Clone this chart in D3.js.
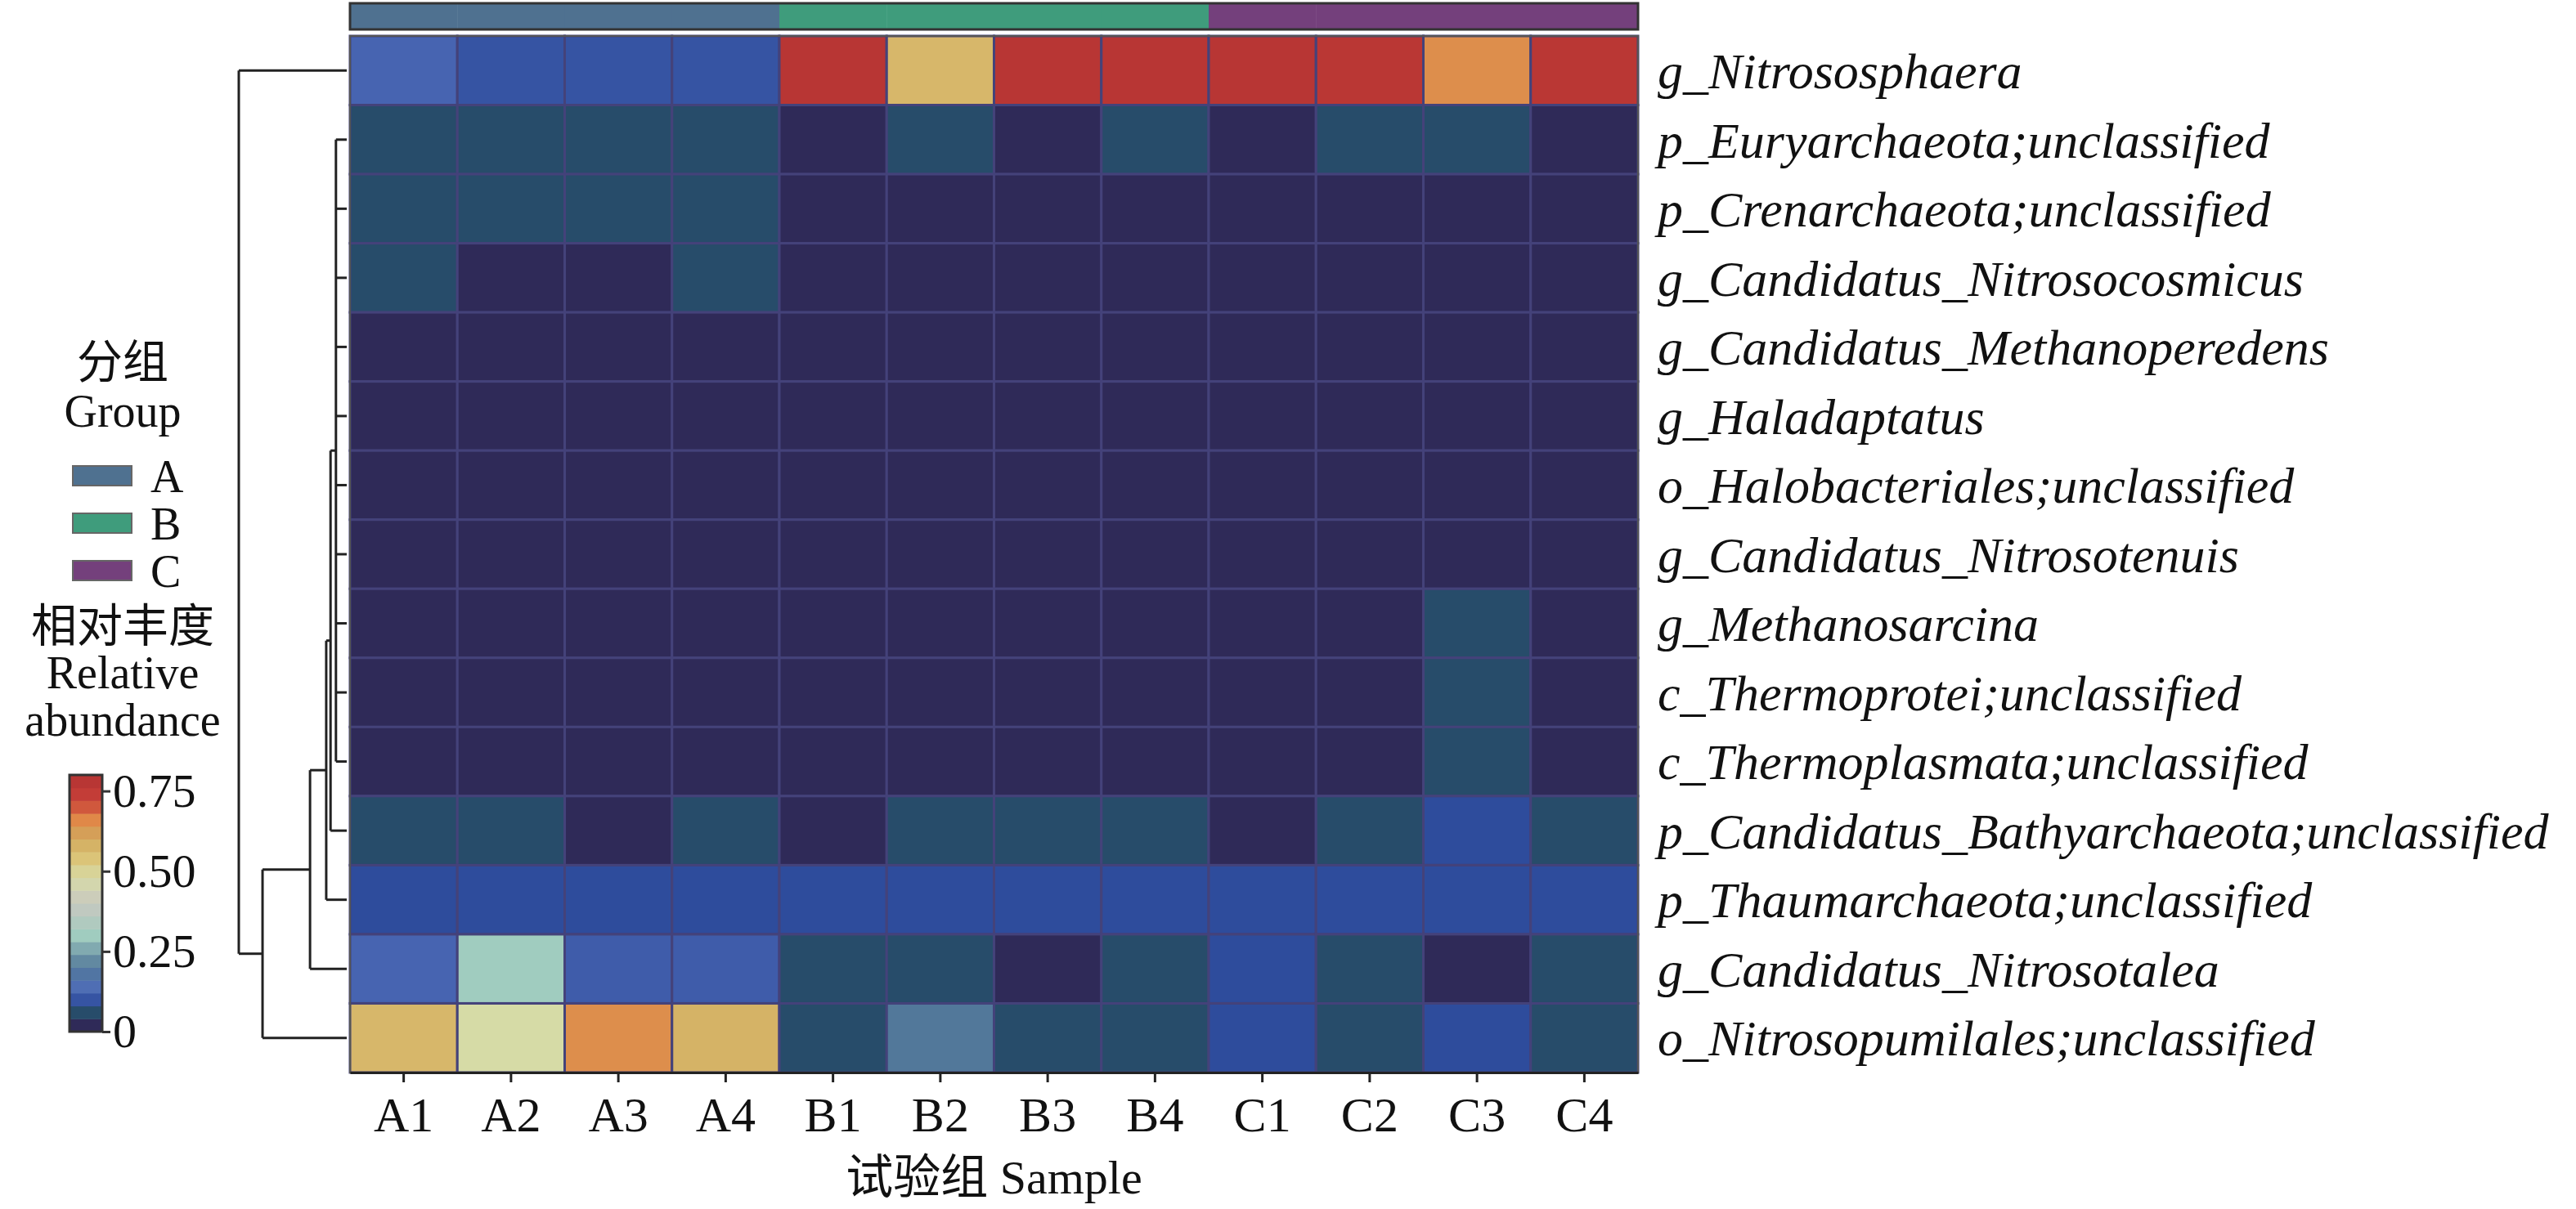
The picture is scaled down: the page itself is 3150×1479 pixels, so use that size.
<!DOCTYPE html>
<html><head><meta charset="utf-8">
<script src="https://cdn.jsdelivr.net/npm/d3@7"></script>
<style>body{margin:0;background:#fff}svg{display:block}</style>
</head><body>
<script>
// Data
const samples = ['A1','A2','A3','A4','B1','B2','B3','B4','C1','C2','C3','C4'];
const groups = ['A','A','A','A','B','B','B','B','C','C','C','C'];
const groupNames = ['A','B','C'];
const taxa = ['g_Nitrososphaera','p_Euryarchaeota;unclassified','p_Crenarchaeota;unclassified',
  'g_Candidatus_Nitrosocosmicus','g_Candidatus_Methanoperedens','g_Haladaptatus',
  'o_Halobacteriales;unclassified','g_Candidatus_Nitrosotenuis','g_Methanosarcina',
  'c_Thermoprotei;unclassified','c_Thermoplasmata;unclassified',
  'p_Candidatus_Bathyarchaeota;unclassified','p_Thaumarchaeota;unclassified',
  'g_Candidatus_Nitrosotalea','o_Nitrosopumilales;unclassified'];
const values = [
  [0.12,0.10,0.10,0.10,0.78,0.57,0.78,0.78,0.78,0.77,0.65,0.77],
  [0.04,0.04,0.04,0.04,0.01,0.04,0.01,0.04,0.01,0.04,0.04,0.01],
  [0.04,0.04,0.04,0.04,0.01,0.01,0.01,0.01,0.01,0.01,0.01,0.01],
  [0.04,0.01,0.01,0.04,0.01,0.01,0.01,0.01,0.01,0.01,0.01,0.01],
  [0.01,0.01,0.01,0.01,0.01,0.01,0.01,0.01,0.01,0.01,0.01,0.01],
  [0.01,0.01,0.01,0.01,0.01,0.01,0.01,0.01,0.01,0.01,0.01,0.01],
  [0.01,0.01,0.01,0.01,0.01,0.01,0.01,0.01,0.01,0.01,0.01,0.01],
  [0.01,0.01,0.01,0.01,0.01,0.01,0.01,0.01,0.01,0.01,0.01,0.01],
  [0.01,0.01,0.01,0.01,0.01,0.01,0.01,0.01,0.01,0.01,0.04,0.01],
  [0.01,0.01,0.01,0.01,0.01,0.01,0.01,0.01,0.01,0.01,0.04,0.01],
  [0.01,0.01,0.01,0.01,0.01,0.01,0.01,0.01,0.01,0.01,0.04,0.01],
  [0.04,0.04,0.01,0.04,0.01,0.04,0.04,0.04,0.01,0.04,0.09,0.04],
  [0.09,0.09,0.09,0.09,0.09,0.09,0.09,0.09,0.09,0.09,0.09,0.09],
  [0.12,0.30,0.11,0.11,0.04,0.04,0.01,0.04,0.09,0.04,0.01,0.04],
  [0.57,0.48,0.65,0.58,0.04,0.20,0.04,0.04,0.09,0.04,0.09,0.04]
];
const legendTicks = [0, 0.25, 0.5, 0.75];
// row clustering tree (leaves = row index, h = merge height)
const tree = {h:1, c:[0, {h:0.78, c:[{h:0.34, c:[{h:0.19, c:[{h:0.15, c:[
  {h:0.1, c:[1,2,3,4,5,6,7,8,9,10]}, 11]}, 12]}, 13]}, 14]}]};

const W = 3150, H = 1479;
const svg = d3.select('body').append('svg').attr('width', W).attr('height', H);
const mLeft = 428, mRight = 2003, mTop = 44, mBottom = 1312;
const serif = 'Liberation Serif, Noto Sans CJK SC';

const x = d3.scaleBand().domain(samples).range([mLeft, mRight]);
const y = d3.scaleBand().domain(taxa).range([mTop, mBottom]);
const color = d3.scaleLinear()
  .domain([0,0.02,0.04,0.06,0.09,0.13,0.2,0.3,0.4,0.48,0.55,0.6,0.66,0.72,0.8])
  .range(['#2f2957','#2f2a58','#274c6a','#274c6a','#2e4c9c','#4f6cb8','#52789a','#a0ccbf','#c8c8c0','#d6dba6','#dcc070','#d0aa60','#e08848','#c84038','#b23232'])
  .clamp(true);
const groupColor = d3.scaleOrdinal().domain(groupNames).range(['#4f7190','#3f9c7c','#74407c']);

// annotation bar
svg.append('g').selectAll('rect').data(samples).join('rect')
  .attr('x', d => x(d)).attr('y', 4).attr('width', x.bandwidth()+0.5).attr('height', 32)
  .attr('fill', (d,i) => groupColor(groups[i]));
svg.append('rect').attr('x', mLeft).attr('y', 4).attr('width', mRight-mLeft).attr('height', 32)
  .attr('fill','none').attr('stroke','#333').attr('stroke-width',3);

// heatmap cells
const cells = [];
values.forEach((row,i) => row.forEach((v,j) => cells.push({t:taxa[i], s:samples[j], v})));
svg.append('g').selectAll('rect').data(cells).join('rect')
  .attr('x', d => x(d.s)).attr('y', d => y(d.t))
  .attr('width', x.bandwidth()).attr('height', y.bandwidth())
  .attr('fill', d => color(d.v)).attr('stroke','#44427a').attr('stroke-width',3);
svg.append('rect').attr('x', mLeft).attr('y', mTop).attr('width', mRight-mLeft).attr('height', mBottom-mTop)
  .attr('fill','none').attr('stroke','#555').attr('stroke-width',2);

// row labels
svg.append('g').selectAll('text').data(taxa).join('text')
  .attr('x', mRight + 24).attr('y', d => y(d) + y.bandwidth()/2)
  .attr('dy','0.35em').attr('font-family','Liberation Serif').attr('font-style','italic')
  .attr('font-size', 62).attr('fill','#111').text(d => d);

// x axis
const xAxis = svg.append('g').attr('transform', `translate(0,${mBottom})`)
  .call(d3.axisBottom(x).tickSize(12).tickSizeOuter(0));
xAxis.select('.domain').attr('stroke','#222').attr('stroke-width',3);
xAxis.selectAll('line').attr('stroke','#222').attr('stroke-width',3);
xAxis.selectAll('text').attr('font-family','Liberation Serif').attr('font-size',60).attr('fill','#111').attr('dy','0.95em');
svg.append('text').attr('x', (mLeft+mRight)/2).attr('y', 1460).attr('text-anchor','middle')
  .attr('font-family',serif).attr('font-size',58).attr('fill','#111')
  .text('试验组 Sample');

// dendrogram
const hx = d3.scaleLinear().domain([0,1]).range([mLeft - 4, 292]);
const dg = svg.append('g').attr('fill','none').attr('stroke','#222').attr('stroke-width',3);
function layout(n) {
  if (typeof n === 'number') return {y: y(taxa[n]) + y.bandwidth()/2, x: mLeft - 4};
  const kids = n.c.map(layout);
  const nx = hx(n.h);
  const ys = kids.map(k => k.y);
  dg.append('line').attr('x1', nx).attr('x2', nx).attr('y1', d3.min(ys)).attr('y2', d3.max(ys));
  kids.forEach(k => dg.append('line').attr('x1', nx).attr('x2', k.x).attr('y1', k.y).attr('y2', k.y));
  return {y: (d3.min(ys) + d3.max(ys))/2, x: nx};
}
layout(tree);

// legend: group
const lg = svg.append('g').attr('fill','#111');
lg.append('text').attr('x',150).attr('y',462).attr('text-anchor','middle').attr('font-family',serif).attr('font-size',56).text('分组');
lg.append('text').attr('x',150).attr('y',522).attr('text-anchor','middle').attr('font-family',serif).attr('font-size',56).text('Group');
groupNames.forEach((g,i) => {
  lg.append('rect').attr('x',89).attr('y',570+i*58).attr('width',72).attr('height',24)
    .attr('fill',groupColor(g)).attr('stroke','#666').attr('stroke-width',2);
  lg.append('text').attr('x',184).attr('y',582+i*58).attr('dy','0.35em').attr('font-family',serif).attr('font-size',56).text(g);
});
lg.append('text').attr('x',150).attr('y',785).attr('text-anchor','middle').attr('font-family',serif).attr('font-size',56).text('相对丰度');
lg.append('text').attr('x',150).attr('y',842).attr('text-anchor','middle').attr('font-family',serif).attr('font-size',56).text('Relative');
lg.append('text').attr('x',150).attr('y',900).attr('text-anchor','middle').attr('font-family',serif).attr('font-size',56).text('abundance');

// colorbar
const cb = d3.scaleLinear().domain([0,0.8]).range([1262, 948]);
const steps = d3.range(0, 0.8, 0.04);
lg.append('g').selectAll('rect').data(steps).join('rect')
  .attr('x',85).attr('y', d => cb(d+0.04)).attr('width',40).attr('height', d => cb(d)-cb(d+0.04)+0.5)
  .attr('fill', d => color(d+0.02));
lg.append('rect').attr('x',85).attr('y',948).attr('width',40).attr('height',314)
  .attr('fill','none').attr('stroke','#333').attr('stroke-width',3);
const cbAxis = lg.append('g').attr('transform','translate(125,0)')
  .call(d3.axisRight(cb).tickValues(legendTicks).tickFormat(d => d === 0 ? '0' : d3.format('.2f')(d)).tickSize(10));
cbAxis.select('.domain').remove();
cbAxis.selectAll('line').attr('stroke','#333').attr('stroke-width',3);
cbAxis.selectAll('text').attr('font-family','Liberation Serif').attr('font-size',58).attr('fill','#111');
</script>
</body></html>
